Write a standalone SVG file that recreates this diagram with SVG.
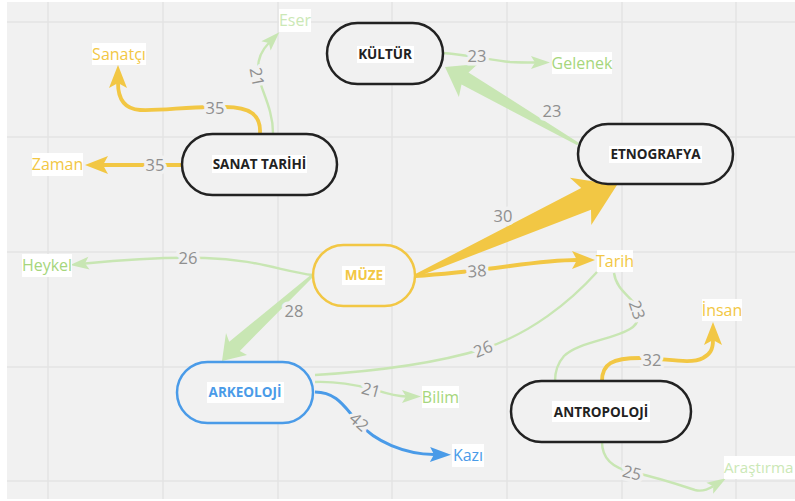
<svg xmlns="http://www.w3.org/2000/svg" width="795" height="501" viewBox="0 0 795 501">
<defs>
<style>
.grid line{stroke:#e3e3e3;stroke-width:1.5}
.node rect.b{fill:#f1f1f1;stroke:#222;stroke-width:2.5}
.nt{font-family:"Open Sans","Liberation Sans",sans-serif;font-weight:700;font-size:13.5px;fill:#222;text-anchor:middle}
.lt{font-family:"Open Sans","Liberation Sans",sans-serif;font-size:16px;text-anchor:middle}
.bg{fill:#fff}
.el{font-family:"Open Sans","Liberation Sans",sans-serif;font-size:16.5px;fill:#8f8f8f;text-anchor:middle;stroke:#f1f1f1;stroke-width:7;paint-order:stroke;stroke-linejoin:round}
.y{fill:none;stroke:#f2c744;stroke-width:3.8}
.g{fill:none;stroke:#c8e6b3;stroke-width:2.4}
.bl{fill:none;stroke:#4a9be8;stroke-width:3}
.ya{marker-end:url(#mY)}
.ga{marker-end:url(#mG)}
.ba{marker-end:url(#mB)}
.cy{fill:#f2c744}.cg{fill:#a6d67c}.cgp{fill:#cbe8b6}.cb{fill:#4a9be8}
</style>
<marker id="mY" markerUnits="userSpaceOnUse" markerWidth="30" markerHeight="24" refX="5" refY="0" viewBox="0 -12 30 24" orient="auto" overflow="visible"><path d="M0,-9 L23,0 L0,9 L5,0 Z" fill="#f2c744"/></marker>
<marker id="mG" markerUnits="userSpaceOnUse" markerWidth="24" markerHeight="16" refX="4" refY="0" viewBox="0 -8 24 16" orient="auto" overflow="visible"><path d="M0,-6.5 L19,0 L0,6.5 L4,0 Z" fill="#c8e6b3"/></marker>
<marker id="mB" markerUnits="userSpaceOnUse" markerWidth="26" markerHeight="18" refX="4" refY="0" viewBox="0 -9 26 18" orient="auto" overflow="visible"><path d="M0,-7.5 L21,0 L0,7.5 L4,0 Z" fill="#4a9be8"/></marker>
</defs>
<rect x="0" y="0" width="795" height="501" fill="#fff"/>
<rect x="7" y="2" width="788" height="497" fill="#f1f1f1"/>
<g class="grid">
<line x1="48" y1="2" x2="48" y2="499"/><line x1="163" y1="2" x2="163" y2="499"/><line x1="278" y1="2" x2="278" y2="499"/><line x1="392" y1="2" x2="392" y2="499"/><line x1="507" y1="2" x2="507" y2="499"/><line x1="622" y1="2" x2="622" y2="499"/><line x1="736" y1="2" x2="736" y2="499"/>
<line x1="7" y1="22" x2="795" y2="22"/><line x1="7" y1="137" x2="795" y2="137"/><line x1="7" y1="252" x2="795" y2="252"/><line x1="7" y1="367" x2="795" y2="367"/><line x1="7" y1="481" x2="795" y2="481"/>
</g>
<g id="connectors">
<path class="y ya" d="M260,133 C261,115 250,107 225,107 L210,107 C185,107 160,111 140,110 C125,109 118,100 118,83"/>
<path class="g ga" d="M273,133 C273,110 262,92 259,78 C256,64 260,52 268.8,43"/>
<path class="y ya" d="M182,165 L103,165"/>
<path class="g ga" d="M443,53 C470,55 490,60 510,62 C520,62.5 528,62.5 535,62.5"/>
<polygon fill="#c8e6b3" points="578.75,142.7 468.5,72.4 477.9,64.1 445,67 458.9,96.9 461.5,84.6 577.25,145.3"/>
<polygon fill="#f2c744" points="415.6,277.4 591,209.8 591.3,225.1 617,185 569.9,177.7 581.2,188 414.4,274.6"/>
<path class="y ya" d="M415,276 C450,274 480,270 510,266 C540,262 560,260 577,260"/>
<path class="g ga" d="M313,275 C285,272 255,259 205,258 C160,257 110,261 85,263.5"/>
<polygon fill="#c8e6b3" points="314,276.1 239.8,350.9 247,355 222,361 226,333 229.2,341.8 312,273.9"/>
<path class="g" d="M315,375 C380,371 440,362 483,349 C530,334 570,302 597,272"/>
<path class="g ga" d="M315,382 C340,381 360,386 372,389 C385,393 395,396.5 406,396.5"/>
<path class="bl ba" d="M315,392 C337,392 345,408 358,422 C375,442 405,454 434,454.5"/>
<path class="g" d="M614,273 C616,288 628,295 634,303 C641,313 640,323 630,329 C612,340 578,342 564,356 C557,364 555,372 555,381"/>
<path class="y ya" d="M602,381 C602,364 612,358 640,358 C665,358 690,365 703,358 C710,354 713,350 713,340"/>
<path class="g ga" d="M602,442 C602,458 612,468 632,472 C655,477 680,485 695,490 C702,492 707,490 713.2,486.2"/>
<text class="el" x="215" y="108" dy="0.35em">35</text>
<text class="el" x="0" y="0" dy="0.35em" transform="translate(257,77) rotate(79)">21</text>
<text class="el" x="155" y="165" dy="0.35em">35</text>
<text class="el" x="477" y="56" dy="0.35em">23</text>
<text class="el" x="552" y="111" dy="0.35em">23</text>
<text class="el" x="503" y="216" dy="0.35em">30</text>
<text class="el" x="0" y="0" dy="0.35em" transform="translate(477,271) rotate(-4)">38</text>
<text class="el" x="188" y="258" dy="0.35em">26</text>
<text class="el" x="294" y="311" dy="0.35em">28</text>
<text class="el" x="0" y="0" dy="0.35em" transform="translate(483,349) rotate(-22)">26</text>
<text class="el" x="0" y="0" dy="0.35em" transform="translate(371,390) rotate(15)">21</text>
<text class="el" x="0" y="0" dy="0.35em" transform="translate(359,422) rotate(42)">42</text>
<text class="el" x="0" y="0" dy="0.35em" transform="translate(637,310) rotate(72)">23</text>
<text class="el" x="652" y="360" dy="0.35em">32</text>
<text class="el" x="0" y="0" dy="0.35em" transform="translate(632,473) rotate(14)">25</text>
</g>
<g id="kultur" class="node"><rect class="b" x="327" y="23" width="116" height="61" rx="30.5"/><rect class="bg" x="357" y="46" width="57" height="17"/><text class="nt" x="385" y="54.5" dy="0.35em">KÜLTÜR</text></g>
<g id="sanat-tarihi" class="node"><rect class="b" x="182" y="134" width="155" height="61" rx="30.5"/><rect class="bg" x="212" y="155" width="95" height="18"/><text class="nt" x="259.5" y="164.5" dy="0.35em">SANAT TARİHİ</text></g>
<g id="etnografya" class="node"><rect class="b" x="578" y="124" width="155" height="60" rx="30"/><rect class="bg" x="609" y="146" width="93" height="17"/><text class="nt" x="655.5" y="154.5" dy="0.35em">ETNOGRAFYA</text></g>
<g id="muze" class="node"><rect class="b" x="313" y="245" width="102" height="61" rx="30.5" style="stroke:#f2c744"/><rect class="bg" x="342" y="266" width="43" height="19"/><text class="nt" x="364" y="275.5" dy="0.35em" style="fill:#f2c744">MÜZE</text></g>
<g id="arkeoloji" class="node"><rect class="b" x="177" y="362" width="136" height="61" rx="30.5" style="stroke:#4a9be8"/><rect class="bg" x="207" y="382" width="77" height="21"/><text class="nt" x="245" y="392.5" dy="0.35em" style="fill:#4a9be8">ARKEOLOJİ</text></g>
<g id="antropoloji" class="node"><rect class="b" x="511" y="381" width="180" height="61" rx="30.5"/><rect class="bg" x="552" y="401" width="98" height="21"/><text class="nt" x="601" y="412" dy="0.35em">ANTROPOLOJİ</text></g>
<g id="eser"><rect class="bg" x="279" y="9" width="32" height="23"/><text class="lt cgp" x="295" y="20.5" dy="0.35em">Eser</text></g>
<g id="sanatci"><rect class="bg" x="92" y="43" width="54" height="22"/><text class="lt cy" x="119" y="54" dy="0.35em">Sanatçı</text></g>
<g id="zaman"><rect class="bg" x="32" y="153" width="51" height="23"/><text class="lt cy" x="57.5" y="164.5" dy="0.35em">Zaman</text></g>
<g id="gelenek"><rect class="bg" x="552" y="52" width="60" height="22"/><text class="lt cg" x="582" y="63" dy="0.35em">Gelenek</text></g>
<g id="heykel"><rect class="bg" x="22" y="254" width="50" height="23"/><text class="lt cg" x="47" y="265.5" dy="0.35em">Heykel</text></g>
<g id="tarih"><rect class="bg" x="597" y="250" width="36" height="22"/><text class="lt cy" x="615" y="261" dy="0.35em">Tarih</text></g>
<g id="insan"><rect class="bg" x="702" y="299" width="40" height="22"/><text class="lt cy" x="722" y="310" dy="0.35em">İnsan</text></g>
<g id="bilim"><rect class="bg" x="422" y="386" width="37" height="22"/><text class="lt cg" x="440.5" y="397" dy="0.35em">Bilim</text></g>
<g id="kazi"><rect class="bg" x="452" y="444" width="32" height="23"/><text class="lt cb" x="468" y="455.5" dy="0.35em">Kazı</text></g>
<g id="arastirma"><rect class="bg" x="724" y="456" width="71" height="23"/><text class="lt cgp" x="724" y="467.5" dy="0.35em" style="text-anchor:start;font-size:15.2px">Araştırma</text></g>
</svg>
